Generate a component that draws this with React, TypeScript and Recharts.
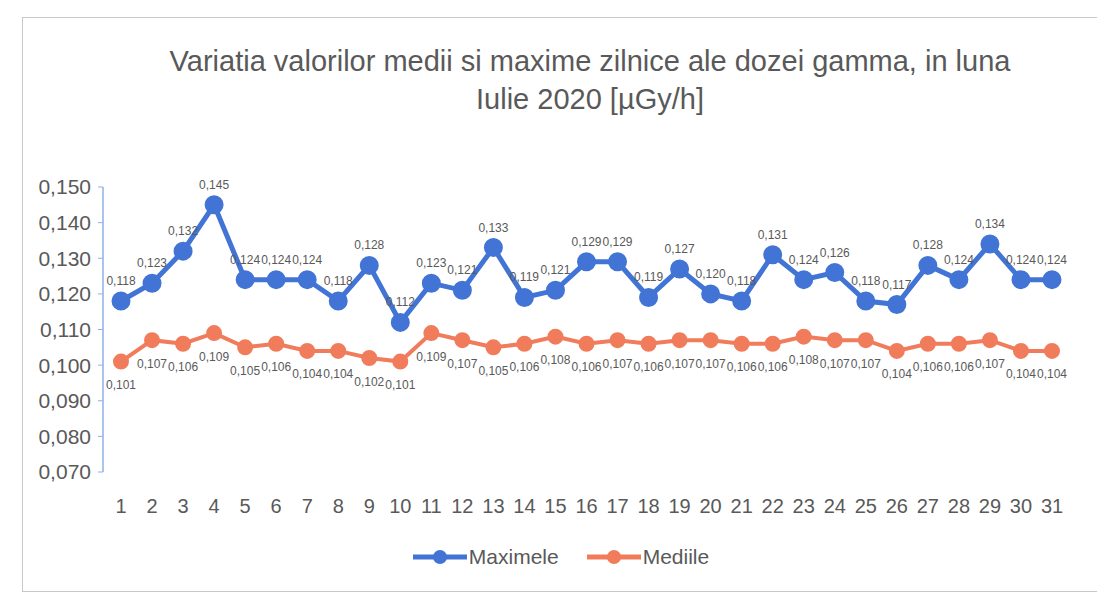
import { LineChart, Line, XAxis, YAxis, LabelList } from "recharts";

const days = Array.from({ length: 31 }, (_, i) => String(i + 1));

const maximele = [
  0.118, 0.123, 0.132, 0.145, 0.124, 0.124, 0.124, 0.118, 0.128, 0.112, 0.123,
  0.121, 0.133, 0.119, 0.121, 0.129, 0.129, 0.119, 0.127, 0.12, 0.118, 0.131,
  0.124, 0.126, 0.118, 0.117, 0.128, 0.124, 0.134, 0.124, 0.124,
];

const mediile = [
  0.101, 0.107, 0.106, 0.109, 0.105, 0.106, 0.104, 0.104, 0.102, 0.101, 0.109,
  0.107, 0.105, 0.106, 0.108, 0.106, 0.107, 0.106, 0.107, 0.107, 0.106, 0.106,
  0.108, 0.107, 0.107, 0.104, 0.106, 0.106, 0.107, 0.104, 0.104,
];

const yTicks = [0.07, 0.08, 0.09, 0.1, 0.11, 0.12, 0.13, 0.14, 0.15];

const data = days.map((d, i) => ({ day: d, max: maximele[i], med: mediile[i] }));

const fmt = (v: any) => Number(v).toFixed(3).replace(".", ",");

const BLUE = "#4274d6";
const ORANGE = "#f07c5c";
const TEXT = "#595959";
const FONT = "'Liberation Sans', Arial, sans-serif";

const App = () => {
  return (
    <div style={{ position: "absolute", left: 0, top: 0, width: 1097, height: 596, background: "#fff", fontFamily: FONT }}>
      <div
        style={{
          position: "absolute",
          left: 22,
          top: 17,
          width: 1080,
          height: 575,
          border: "1.5px solid #c8c8c8",
          boxSizing: "border-box",
        }}
      />
      <div
        style={{
          position: "absolute",
          left: 60,
          top: 42,
          width: 1060,
          textAlign: "center",
          fontSize: 29,
          lineHeight: "38px",
          color: TEXT,
        }}
      >
        Variatia valorilor medii si maxime zilnice ale dozei gamma, in luna
        <br />
        Iulie 2020 [µGy/h]
      </div>
      <div style={{ position: "absolute", left: 0, top: 0 }}>
        <LineChart
          width={1097}
          height={596}
          data={data}
          margin={{ top: 187, right: 29, left: 0, bottom: 94 }}
        >
          <XAxis
            dataKey="day"
            axisLine={false}
            tickLine={false}
            interval={0}
            height={30}
            padding={{ left: 18, right: 16 }}
            tick={{ fill: TEXT, fontSize: 20, fontFamily: FONT }}
            dy={19}
          />
          <YAxis
            domain={[0.07, 0.15]}
            ticks={yTicks}
            tickFormatter={fmt}
            width={103}
            axisLine={{ stroke: "#8fb0e8", strokeWidth: 1.5 }}
            tickLine={{ stroke: "#8fb0e8" }}
            tickSize={5}
            tick={{ fill: TEXT, fontSize: 21, fontFamily: FONT, dx: -5 }}
            interval={0}
          />
          <Line
            dataKey="max"
            name="Maximele"
            stroke={BLUE}
            strokeWidth={5}
            dot={{ r: 7, fill: BLUE, stroke: BLUE }}
            isAnimationActive={false}
          >
            <LabelList
              dataKey="max"
              position="top"
              offset={16}
              formatter={fmt}
              style={{ fill: TEXT, fontSize: 12, fontFamily: FONT }}
            />
          </Line>
          <Line
            dataKey="med"
            name="Mediile"
            stroke={ORANGE}
            strokeWidth={4}
            dot={{ r: 6, fill: ORANGE, stroke: ORANGE }}
            isAnimationActive={false}
          >
            <LabelList
              dataKey="med"
              position="bottom"
              offset={19}
              formatter={fmt}
              style={{ fill: TEXT, fontSize: 12, fontFamily: FONT }}
            />
          </Line>
        </LineChart>
      </div>
      <div
        style={{
          position: "absolute",
          left: 0,
          top: 545,
          width: 1120,
          display: "flex",
          justifyContent: "center",
          gap: 26,
          fontSize: 21,
          color: TEXT,
        }}
      >
        {[
          { n: "Maximele", c: BLUE },
          { n: "Mediile", c: ORANGE },
        ].map((s) => (
          <div key={s.n} style={{ display: "flex", alignItems: "center" }}>
            <svg width={58} height={20}>
              <line x1={2} y1={10} x2={56} y2={10} stroke={s.c} strokeWidth={5} />
              <circle cx={29} cy={10} r={7} fill={s.c} />
            </svg>
            <span>{s.n}</span>
          </div>
        ))}
      </div>
    </div>
  );
};

export default App;
